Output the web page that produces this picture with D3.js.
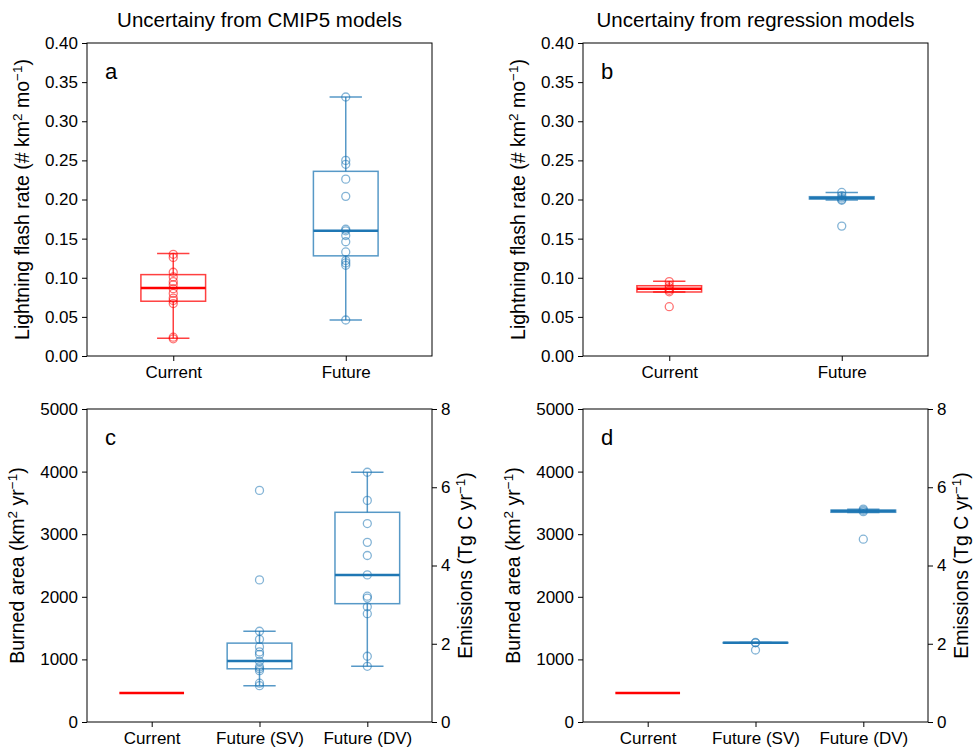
<!DOCTYPE html>
<html>
<head>
<meta charset="utf-8">
<script src="https://cdn.jsdelivr.net/npm/d3@7"></script>
<style>
  body { margin: 0; background: #fff; }
  svg text { font-family: "Liberation Sans", Arial, Helvetica, sans-serif; fill: #000; }
</style>
</head>
<body>
<svg id="chart" width="975" height="752"></svg>
<script>
// ---- data ----
const topCategories = ["Current", "Future"];
const bottomCategories = ["Current", "Future (SV)", "Future (DV)"];
const flashTicks = [0, 0.05, 0.10, 0.15, 0.20, 0.25, 0.30, 0.35, 0.40];
const areaTicks = [0, 1000, 2000, 3000, 4000, 5000];
const emissionTicks = [0, 2, 4, 6, 8];

// box statistics: [lower whisker, q1, median, q3, upper whisker]
const cmipFlashStats = [
  [0.0226, 0.070, 0.087, 0.104, 0.131],
  [0.046, 0.128, 0.160, 0.236, 0.331]
];
const cmipFlashPoints = [
  [0.130, 0.126, 0.107, 0.101, 0.095, 0.091, 0.086, 0.080, 0.074, 0.071, 0.067, 0.024, 0.022],
  [0.331, 0.250, 0.245, 0.226, 0.204, 0.162, 0.160, 0.154, 0.146, 0.133, 0.122, 0.119, 0.116, 0.046]
];
const regFlashStats = [
  [0.0818, 0.0818, 0.0858, 0.0898, 0.0954],
  [0.1995, 0.2006, 0.2020, 0.2036, 0.2090]
];
const regFlashPoints = [
  [0.095, 0.090, 0.087, 0.084, 0.082, 0.063],
  [0.209, 0.205, 0.202, 0.200, 0.199, 0.166]
];
const cmipAreaStats = [
  [465, 465, 465, 465, 465],
  [580, 850, 975, 1260, 1450],
  [890, 1890, 2350, 3350, 3990]
];
const cmipAreaPoints = [
  [],
  [3700, 2270, 1450, 1320, 1200, 1120, 1080, 970, 880, 850, 820, 620, 580],
  [3990, 3540, 3170, 2870, 2660, 2350, 2010, 1980, 1840, 1730, 1050, 890]
];
const regAreaStats = [
  [465, 465, 465, 465, 465],
  [1262, 1262, 1266, 1270, 1270],
  [3345, 3350, 3370, 3385, 3400]
];
const regAreaPoints = [
  [],
  [1270, 1265, 1150],
  [3400, 3380, 3360, 2920]
];
// burned area (km2 yr-1) at which the emission axis reads 8 Tg C yr-1
const emissionAreaAt8 = 5000;

const seriesColors = ["#ff0000", "#1f77b4", "#1f77b4"];

// ---- layout ----
const svg = d3.select("#chart");
const panels = [
  {id: "a", x0: 87, x1: 432, y0: 43, y1: 356, cats: topCategories, xdom: [0.5, 2.5], boxW: 0.375,
   ydom: [0, 0.40], ticks: flashTicks, fmt: d3.format(".2f"), stats: cmipFlashStats, pts: cmipFlashPoints, kind: "flash"},
  {id: "b", x0: 583, x1: 928, y0: 43, y1: 356, cats: topCategories, xdom: [0.5, 2.5], boxW: 0.375,
   ydom: [0, 0.40], ticks: flashTicks, fmt: d3.format(".2f"), stats: regFlashStats, pts: regFlashPoints, kind: "flash"},
  {id: "c", x0: 87, x1: 432, y0: 409, y1: 722, cats: bottomCategories, xdom: [0.4, 3.6], boxW: 0.6,
   ydom: [0, 5000], ticks: areaTicks, fmt: d3.format("d"), stats: cmipAreaStats, pts: cmipAreaPoints, kind: "area"},
  {id: "d", x0: 583, x1: 928, y0: 409, y1: 722, cats: bottomCategories, xdom: [0.4, 3.6], boxW: 0.6,
   ydom: [0, 5000], ticks: areaTicks, fmt: d3.format("d"), stats: regAreaStats, pts: regAreaPoints, kind: "area"}
];

function styleAxis(g) {
  g.select(".domain").remove();
  g.selectAll(".tick line").attr("stroke", "#000").attr("stroke-width", 1);
  g.selectAll(".tick text").style("font-size", "17px").attr("fill", "#000");
}

function supLabel(g, x, y, parts) {
  // parts: array of [text, isSuperscript]
  const t = g.append("text")
    .attr("transform", `translate(${x},${y}) rotate(-90)`)
    .attr("text-anchor", "middle")
    .style("font-size", "19.5px");
  parts.forEach(([s, sup]) => {
    const ts = t.append("tspan").text(s);
    if (sup) ts.style("font-size", "13.5px").attr("baseline-shift", "super");
  });
}

panels.forEach(p => {
  const g = svg.append("g");
  const x = d3.scaleLinear().domain(p.xdom).range([p.x0, p.x1]);
  const y = d3.scaleLinear().domain(p.ydom).range([p.y1, p.y0]);

  // left axis
  const ay = g.append("g").attr("transform", `translate(${p.x0},0)`)
    .call(d3.axisLeft(y).tickValues(p.ticks).tickFormat(p.fmt).tickSize(5).tickPadding(4));
  styleAxis(ay);

  // category axis
  const ax = g.append("g").attr("transform", `translate(0,${p.y1})`)
    .call(d3.axisBottom(x).tickValues(p.cats.map((c, i) => i + 1)).tickFormat((d, i) => p.cats[i]).tickSize(5).tickPadding(5));
  styleAxis(ax);

  // right emission axis for burned-area panels
  if (p.kind === "area") {
    const y2 = d3.scaleLinear().domain([0, 8 * p.ydom[1] / emissionAreaAt8]).range([p.y1, p.y0]);
    const ar = g.append("g").attr("transform", `translate(${p.x1},0)`)
      .call(d3.axisRight(y2).tickValues(emissionTicks).tickFormat(d3.format("d")).tickSize(5).tickPadding(4));
    styleAxis(ar);
  }

  // boxes
  p.stats.forEach((s, i) => {
    const cx = x(i + 1);
    const col = seriesColors[p.kind === "flash" ? (i === 0 ? 0 : 1) : i];
    const half = (x(i + 1 + p.boxW / 2) - x(i + 1));
    const capHalf = half / 2;
    const bg = g.append("g").attr("stroke", col).attr("fill", "none");
    // whiskers
    bg.append("line").attr("x1", cx).attr("x2", cx).attr("y1", y(s[0])).attr("y2", y(s[1]))
      .attr("stroke-width", 1.5).attr("stroke-opacity", 0.75);
    bg.append("line").attr("x1", cx).attr("x2", cx).attr("y1", y(s[3])).attr("y2", y(s[4]))
      .attr("stroke-width", 1.5).attr("stroke-opacity", 0.75);
    // caps
    [s[0], s[4]].forEach(v => {
      bg.append("line").attr("x1", cx - capHalf).attr("x2", cx + capHalf).attr("y1", y(v)).attr("y2", y(v))
        .attr("stroke-width", 1.5).attr("stroke-opacity", 0.75);
    });
    // box
    bg.append("rect").attr("x", cx - half).attr("width", 2 * half)
      .attr("y", y(s[3])).attr("height", Math.max(0, y(s[1]) - y(s[3])))
      .attr("stroke-width", 1.5).attr("stroke-opacity", 0.75);
    // median
    bg.append("line").attr("x1", cx - half).attr("x2", cx + half).attr("y1", y(s[2])).attr("y2", y(s[2]))
      .attr("stroke-width", 2.5);

    // individual values
    g.append("g").selectAll("circle").data(p.pts[i]).join("circle")
      .attr("cx", cx).attr("cy", d => y(d)).attr("r", 4)
      .attr("fill", "none").attr("stroke", col).attr("stroke-width", 1.3).attr("stroke-opacity", 0.55);
  });

  // frame
  g.append("rect").attr("x", p.x0).attr("y", p.y0).attr("width", p.x1 - p.x0).attr("height", p.y1 - p.y0)
    .attr("fill", "none").attr("stroke", "#000").attr("stroke-width", 1);

  // panel letter
  g.append("text").attr("x", p.x0 + 18).attr("y", p.y0 + 36).style("font-size", "22px").text(p.id);

  // y labels
  if (p.kind === "flash") {
    supLabel(g, p.x0 - 58, (p.y0 + p.y1) / 2,
      [["Lightning flash rate (# km", false], ["2", true], [" mo", false], ["\u22121", true], [")", false]]);
  } else {
    supLabel(g, p.x0 - 63, (p.y0 + p.y1) / 2,
      [["Burned area (km", false], ["2", true], [" yr", false], ["\u22121", true], [")", false]]);
    supLabel(g, p.x1 + 40, (p.y0 + p.y1) / 2,
      [["Emissions (Tg C yr", false], ["\u22121", true], [")", false]]);
  }
});

// column titles
svg.append("text").attr("x", (87 + 432) / 2).attr("y", 27).attr("text-anchor", "middle")
  .style("font-size", "20.5px").text("Uncertainy from CMIP5 models");
svg.append("text").attr("x", (583 + 928) / 2).attr("y", 27).attr("text-anchor", "middle")
  .style("font-size", "20.5px").text("Uncertainy from regression models");
</script>
</body>
</html>
